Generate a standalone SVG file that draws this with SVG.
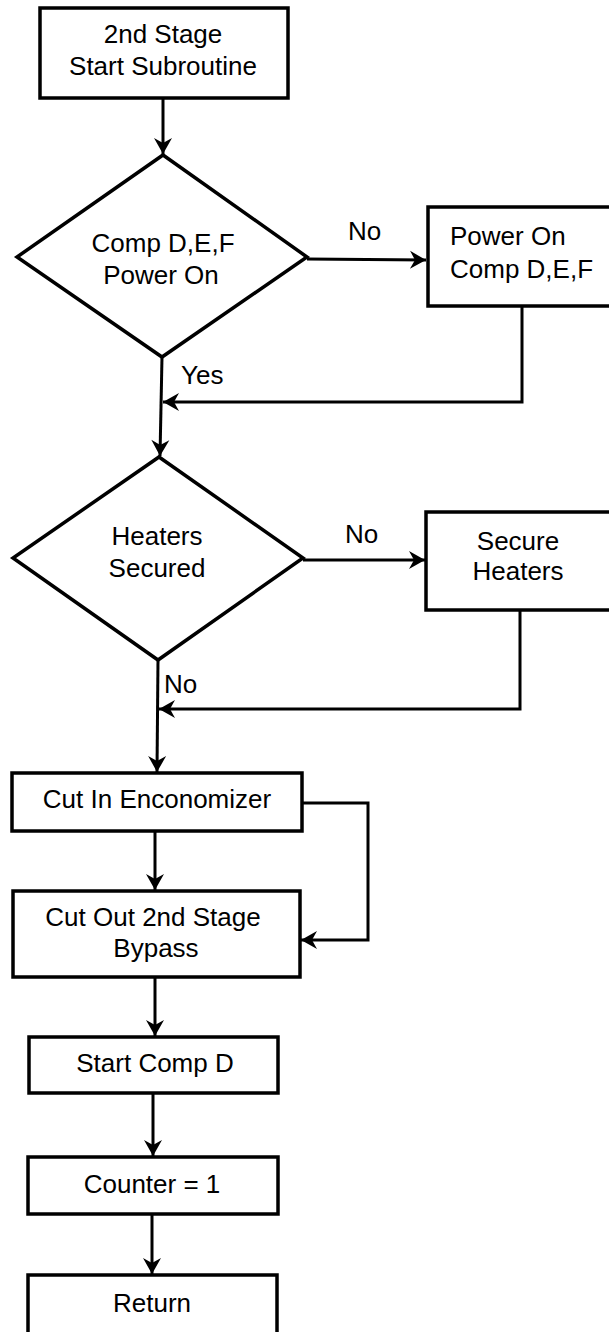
<svg xmlns="http://www.w3.org/2000/svg" width="609" height="1332" viewBox="0 0 609 1332">
  <style>
    .box { fill: #fff; stroke: #000; stroke-width: 3.5; }
    .dia { fill: #fff; stroke: #000; stroke-width: 3.5; stroke-linejoin: miter; }
    .wire { fill: none; stroke: #000; stroke-width: 3; }
    .lbl { font-family: "Liberation Sans", Arial, Helvetica, sans-serif; font-size: 26px; fill: #000; }
    .mid { text-anchor: middle; }
  </style>
  <defs>
    <marker id="arrow" markerUnits="userSpaceOnUse" markerWidth="22" markerHeight="22" viewBox="-18 -11 20 22" refX="0" refY="0" orient="auto">
      <path d="M0,0 L-16,-9 L-11,0 L-16,9 Z" fill="#000"/>
    </marker>
  </defs>
  <rect width="609" height="1332" fill="#fff"/>

  <!-- connectors -->
  <g id="connectors">
    <path class="wire" d="M163,98 L163,154" marker-end="url(#arrow)"/>
    <path class="wire" d="M307,259 L426,260" marker-end="url(#arrow)"/>
    <path class="wire" d="M522,306 L522,402 L163,402" marker-end="url(#arrow)"/>
    <path class="wire" d="M162,357 L160,456" marker-end="url(#arrow)"/>
    <path class="wire" d="M303,560 L425,560" marker-end="url(#arrow)"/>
    <path class="wire" d="M520,610 L520,709 L159,709" marker-end="url(#arrow)"/>
    <path class="wire" d="M158,660 L157,772" marker-end="url(#arrow)"/>
    <path class="wire" d="M155,831 L155,890" marker-end="url(#arrow)"/>
    <path class="wire" d="M302,803 L368,803 L368,940 L301,940" marker-end="url(#arrow)"/>
    <path class="wire" d="M155,977 L155,1036" marker-end="url(#arrow)"/>
    <path class="wire" d="M153,1093 L153,1156" marker-end="url(#arrow)"/>
    <path class="wire" d="M152,1214 L152,1274" marker-end="url(#arrow)"/>
  </g>

  <g id="start">
    <rect class="box" x="40" y="8" width="248" height="90"/>
    <text class="lbl mid" x="163" y="43">2nd Stage</text>
    <text class="lbl mid" x="163" y="75">Start Subroutine</text>
  </g>

  <g id="power-check">
    <polygon class="dia" points="163,155 307,257 162,357 17,257"/>
    <text class="lbl mid" x="163" y="252">Comp D,E,F</text>
    <text class="lbl mid" x="161" y="284">Power On</text>
  </g>
  <text class="lbl" x="348" y="240">No</text>
  <text class="lbl" x="181" y="384">Yes</text>

  <g id="power-on">
    <rect class="box" x="428" y="207" width="200" height="99"/>
    <text class="lbl" x="450" y="245">Power On</text>
    <text class="lbl" x="450" y="278">Comp D,E,F</text>
  </g>

  <g id="heaters-check">
    <polygon class="dia" points="159,457 303,558 158,660 13,558"/>
    <text class="lbl mid" x="157" y="545">Heaters</text>
    <text class="lbl mid" x="157" y="577">Secured</text>
  </g>
  <text class="lbl" x="345" y="543">No</text>
  <text class="lbl" x="164" y="693">No</text>

  <g id="secure-heaters">
    <rect class="box" x="426" y="512" width="200" height="98"/>
    <text class="lbl mid" x="518" y="550">Secure</text>
    <text class="lbl mid" x="518" y="580">Heaters</text>
  </g>

  <g id="economizer">
    <rect class="box" x="12" y="773" width="290" height="58"/>
    <text class="lbl mid" x="157" y="808">Cut In Enconomizer</text>
  </g>

  <g id="bypass">
    <rect class="box" x="13" y="891" width="287" height="86"/>
    <text class="lbl mid" x="153" y="926">Cut Out 2nd Stage</text>
    <text class="lbl mid" x="156" y="957">Bypass</text>
  </g>

  <g id="start-comp">
    <rect class="box" x="29" y="1037" width="249" height="56"/>
    <text class="lbl mid" x="155" y="1072">Start Comp D</text>
  </g>

  <g id="counter">
    <rect class="box" x="28" y="1157" width="250" height="57"/>
    <text class="lbl mid" x="152" y="1193">Counter = 1</text>
  </g>

  <g id="return">
    <rect class="box" x="28" y="1275" width="249" height="80"/>
    <text class="lbl mid" x="152" y="1312">Return</text>
  </g>
</svg>
